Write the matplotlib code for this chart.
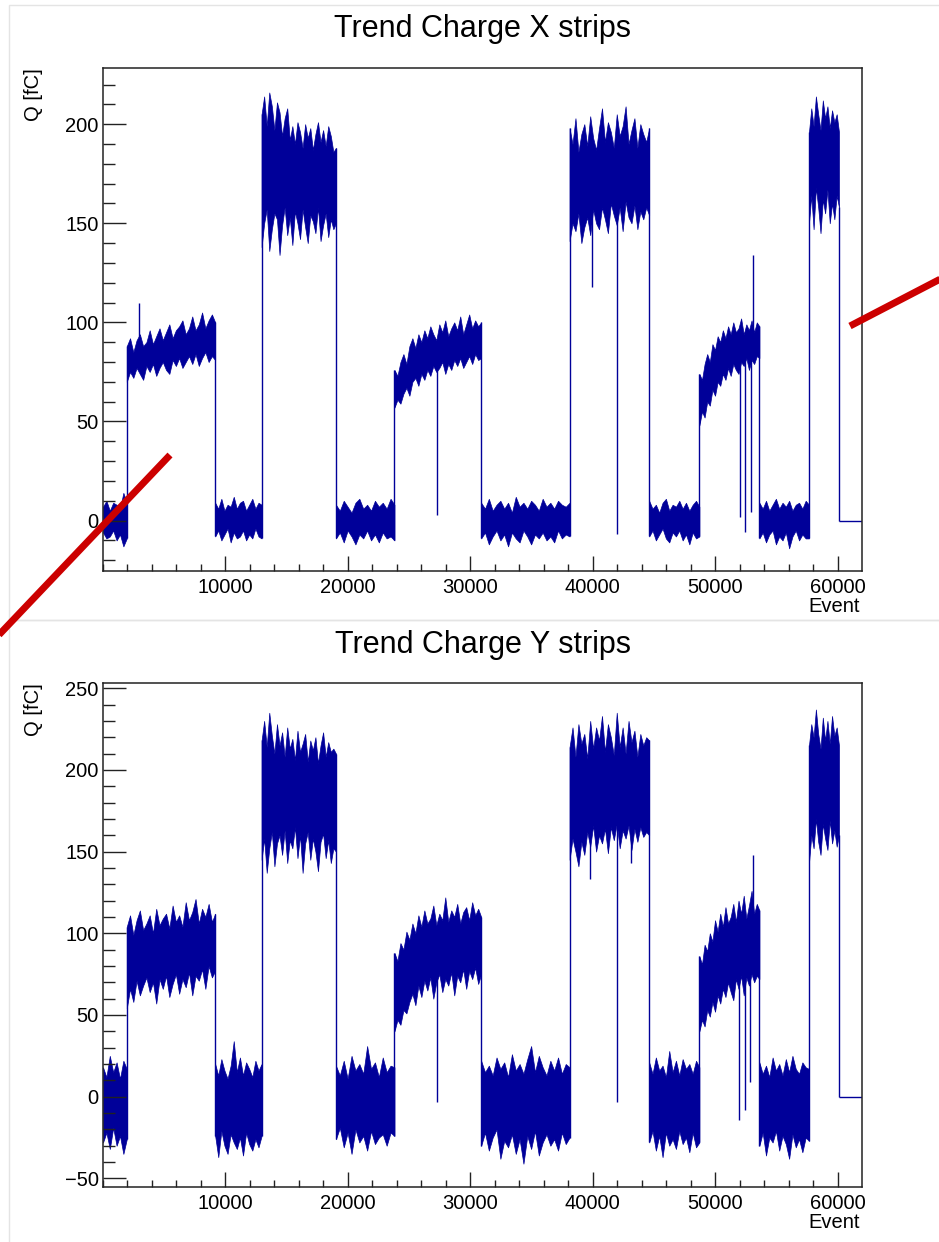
import numpy as np
import matplotlib
matplotlib.use('Agg')
import matplotlib.pyplot as plt
from matplotlib.lines import Line2D
from matplotlib.patches import Rectangle
from matplotlib.ticker import MultipleLocator

plt.rcParams['font.family'] = ['Liberation Sans', 'DejaVu Sans']

# run boundaries (event number), same for both strip planes
edges = [0, 1940, 9160, 12950, 19020, 23800, 30880, 38100, 44600, 48700, 53600, 57650, 60100]
ev_max = 61980

# X strips: upper / lower envelope of the charge in each run, read at evenly spaced events
x_hi = [
    [7, 10, 5, 9, 8, 6, 14, 9],
    [88, 92, 85, 91, 94, 88, 90, 96, 89, 93, 97, 91, 95, 99, 92, 96, 98, 101, 94, 97, 103, 96, 99, 105, 97, 101, 104, 100],
    [9, 6, 11, 5, 8, 7, 12, 6, 9, 10, 5, 8, 11, 6, 9, 8],
    [205, 214, 199, 216, 209, 197, 211, 206, 194, 203, 208, 192, 199, 190, 201, 196, 188, 200, 193, 198,
     187, 195, 201, 191, 197, 189, 199, 194, 186, 188],
    [8, 5, 10, 7, 4, 9, 11, 6, 8, 5, 10, 7, 9, 6, 11, 8],
    [76, 73, 80, 84, 79, 88, 92, 87, 94, 90, 96, 92, 98, 94, 91, 99, 95, 101, 93, 97,
     100, 96, 103, 94, 99, 104, 97, 101, 98, 100],
    [9, 6, 11, 5, 8, 10, 6, 9, 4, 12, 7, 9, 6, 10, 8, 5, 11, 7, 9, 6, 10, 8, 7, 9],
    [198, 190, 203, 186, 195, 200, 189, 204, 193, 187, 198, 208, 191, 201, 196, 188, 205, 194, 199, 209,
     190, 197, 203, 188, 200, 195, 191, 198],
    [10, 6, 8, 4, 9, 11, 5, 8, 7, 10, 6, 9, 5, 8, 10, 7],
    [74, 71, 79, 84, 80, 89, 86, 93, 90, 96, 92, 98, 94, 100, 95, 97, 102, 94, 99, 96, 101, 95, 100, 98],
    [9, 6, 10, 5, 8, 11, 6, 9, 7, 10, 5, 8, 9, 6, 10, 8],
    [196, 208, 199, 214, 205, 197, 212, 203, 209, 198, 207, 201, 205, 196],
]
x_lo = [
    [-6, -9, -8, -5, -10, -7, -13, -9],
    [70, 75, 72, 77, 74, 71, 78, 75, 79, 73, 77, 80, 76, 74, 81, 78, 82, 77, 80, 83, 79, 84, 78, 82, 85, 80, 83, 81],
    [-8, -5, -10, -7, -4, -11, -6, -9, -8, -5, -10, -7, -9, -4, -8, -9],
    [138, 150, 157, 136, 147, 155, 152, 134, 149, 158, 144, 153, 139, 156, 150, 142, 157, 148, 140, 154,
     151, 145, 158, 141, 149, 155, 143, 152, 147, 150],
    [-9, -6, -11, -5, -8, -12, -7, -9, -5, -10, -7, -11, -6, -9, -8, -10],
    [57, 61, 59, 64, 67, 63, 70, 72, 68, 74, 71, 76, 73, 78, 75, 77, 80, 74, 79, 76,
     81, 78, 82, 77, 80, 83, 79, 84, 81, 82],
    [-9, -6, -12, -8, -5, -10, -7, -13, -6, -9, -11, -5, -8, -12, -7, -9, -6, -10, -8, -11, -5, -9, -7, -8],
    [141, 150, 146, 155, 140, 148, 153, 144, 157, 150, 147, 158, 152, 145, 160, 154, 149, 158, 146, 161,
     153, 150, 159, 147, 156, 152, 158, 154],
    [-8, -5, -10, -7, -4, -9, -11, -6, -8, -5, -10, -7, -12, -6, -9, -8],
    [48, 55, 52, 60, 58, 66, 63, 70, 68, 74, 71, 77, 73, 79, 76, 74, 80, 78, 82, 76, 81, 79, 83, 82],
    [-9, -6, -11, -7, -5, -12, -8, -10, -6, -14, -8, -5, -10, -7, -9, -9],
    [150, 164, 147, 168, 158, 145, 162, 155, 167, 150, 160, 152, 164, 158],
]
x_spike_ev = [2940, 27250, 39900, 42000, 52000, 52450, 52900, 53100]
x_spike_q = [110, 3, 118, -7, 2, -6, 4.5, 134]

# Y strips
y_hi = [
    [18, 12, 25, 15, 21, 11, 22, 17],
    [104, 111, 99, 108, 114, 102, 106, 111, 100, 115, 105, 109, 112, 103, 117, 107, 111, 104, 119, 108,
     113, 121, 106, 115, 110, 118, 107, 112],
    [20, 13, 23, 16, 11, 19, 34, 15, 24, 13, 21, 17, 12, 22, 16, 20],
    [218, 230, 214, 235, 221, 210, 228, 215, 223, 208, 226, 213, 219, 206, 224, 211, 216, 222, 205, 218,
     212, 220, 204, 215, 223, 208, 217, 211, 213, 210],
    [19, 13, 22, 11, 25, 16, 20, 14, 31, 17, 21, 12, 24, 15, 19, 18],
    [88, 83, 94, 90, 101, 96, 106, 100, 111, 104, 114, 106, 109, 117, 105, 112, 108, 122, 107, 114,
     110, 118, 106, 113, 116, 108, 119, 111, 115, 110],
    [22, 15, 19, 13, 24, 17, 21, 12, 26, 16, 20, 14, 23, 31, 15, 25, 18, 13, 22, 16, 24, 14, 20, 18],
    [214, 226, 208, 228, 216, 222, 207, 230, 213, 226, 218, 233, 211, 228, 220, 209, 235, 214, 226, 210,
     230, 217, 224, 208, 222, 215, 220, 218],
    [21, 14, 24, 16, 19, 12, 28, 15, 22, 13, 23, 17, 20, 14, 22, 18],
    [86, 81, 93, 89, 100, 95, 108, 101, 112, 104, 116, 106, 110, 118, 107, 120, 112, 123, 109, 117, 126, 112, 118, 114],
    [21, 14, 19, 12, 24, 16, 20, 13, 23, 15, 25, 17, 14, 21, 18, 17],
    [215, 228, 220, 237, 222, 213, 232, 218, 230, 216, 233, 221, 226, 215],
]
y_lo = [
    [-28, -22, -32, -19, -30, -24, -35, -26],
    [54, 66, 58, 71, 62, 68, 73, 64, 70, 57, 72, 66, 74, 61, 69, 75, 63, 72, 67, 76, 62, 74, 71, 78, 66, 80, 73, 77],
    [-24, -37, -21, -30, -35, -23, -28, -32, -25, -36, -22, -29, -33, -26, -31, -24],
    [145, 158, 137, 152, 162, 141, 155, 160, 148, 163, 143, 157, 152, 165, 146, 160, 137, 155, 162, 145,
     158, 150, 138, 156, 161, 146, 157, 143, 152, 150],
    [-26, -19, -31, -22, -35, -20, -28, -24, -33, -21, -29, -25, -23, -30, -22, -24],
    [40, 47, 44, 53, 51, 58, 63, 56, 68, 61, 71, 65, 73, 60, 70, 75, 64, 72, 68, 76,
     62, 74, 70, 78, 66, 77, 72, 79, 69, 75],
    [-30, -22, -33, -25, -20, -38, -27, -31, -23, -35, -26, -41, -24, -32, -21, -36, -28, -23, -30, -26,
     -33, -22, -29, -25],
    [145, 158, 150, 141, 156, 148, 162, 153, 166, 150, 160, 155, 164, 149, 165, 157, 167, 152, 163, 158,
     166, 151, 164, 156, 165, 159, 162, 160],
    [-28, -21, -33, -24, -37, -22, -30, -26, -32, -21, -29, -25, -34, -22, -31, -28],
    [40, 47, 43, 53, 49, 58, 52, 62, 57, 66, 61, 70, 64, 59, 72, 66, 74, 62, 73, 68, 75, 70, 74, 72],
    [-30, -22, -36, -25, -28, -21, -33, -24, -29, -38, -23, -31, -26, -34, -25, -27],
    [143, 160, 152, 170, 156, 148, 167, 158, 151, 169, 155, 163, 153, 160],
]
y_spike_ev = [27250, 39800, 42000, 43100, 51950, 52400, 52850, 53100]
y_spike_q = [-3, 133, -3, 143, -14, -8, 9, 148]

blue = '#000099'


def draw_trend(ax, hi_runs, lo_runs, spike_ev, spike_q):
    xs, mids = [], []
    for i, (hi, lo) in enumerate(zip(hi_runs, lo_runs)):
        ev = np.linspace(edges[i], edges[i + 1], len(hi))
        ax.fill_between(ev, lo, hi, color=blue, lw=0.5)
        xs.append(ev)
        mids.append((np.array(hi) + np.array(lo)) / 2)
    # jumps between runs
    for i in range(len(hi_runs) - 1):
        a = min(lo_runs[i][-1], lo_runs[i + 1][0])
        b = max(hi_runs[i][-1], hi_runs[i + 1][0])
        ax.vlines(edges[i + 1], a, b, color=blue, lw=1.0)
    # empty events after the last run
    ax.vlines(edges[-1], 0, lo_runs[-1][-1], color=blue, lw=1.0)
    ax.hlines(0, edges[-1], ev_max, color=blue, lw=1.0)
    base = np.interp(spike_ev, np.concatenate(xs), np.concatenate(mids))
    ax.vlines(spike_ev, base, spike_q, color=blue, lw=1.0)


def style_axes(ax, ylim, title, title_pad):
    ax.set_xlim(0, ev_max)
    ax.set_ylim(*ylim)
    ax.set_xticks([10000, 20000, 30000, 40000, 50000, 60000])
    ax.xaxis.set_minor_locator(MultipleLocator(2000))
    ax.yaxis.set_major_locator(MultipleLocator(50))
    ax.yaxis.set_minor_locator(MultipleLocator(10))
    ax.tick_params(which='both', direction='in', top=False, right=False,
                   width=1, color='#222222', labelsize=14.5)
    ax.tick_params(axis='y', which='major', length=16.5, pad=3)
    ax.tick_params(axis='y', which='minor', length=8.5)
    ax.tick_params(axis='x', which='major', length=10.8, pad=5)
    ax.tick_params(axis='x', which='minor', length=5.4)
    for s in ax.spines.values():
        s.set_linewidth(1.1)
        s.set_color('#222222')
    ax.set_ylabel('Q [fC]', fontsize=14.5, loc='top')
    ax.yaxis.set_label_coords(-0.079, 1.0)
    ax.set_xlabel('Event', fontsize=14.5, loc='right')
    ax.xaxis.set_label_coords(0.997, -0.052)
    ax.set_title(title, fontsize=22, pad=title_pad)


fig = plt.figure(figsize=(9.39, 12.42), dpi=100)

# pad frames
fig.add_artist(Rectangle((9 / 939, 1 - 620 / 1242), 1.0, 615 / 1242, transform=fig.transFigure,
                         fill=False, edgecolor='#e4e4e4', lw=1.0))
fig.add_artist(Rectangle((9 / 939, -0.01), 1.0, 1 - 620 / 1242 + 0.01, transform=fig.transFigure,
                         fill=False, edgecolor='#e4e4e4', lw=1.0))

ax1 = fig.add_axes([0.1097, 0.5403, 0.8083, 0.4049])
draw_trend(ax1, x_hi, x_lo, x_spike_ev, x_spike_q)
style_axes(ax1, (-25.4, 228.3), 'Trend Charge X strips', 22.7)

ax2 = fig.add_axes([0.1097, 0.0445, 0.8083, 0.4056])
draw_trend(ax2, y_hi, y_lo, y_spike_ev, y_spike_q)
style_axes(ax2, (-55.1, 253.2), 'Trend Charge Y strips', 21.6)

# red marker strokes drawn over the canvas
fig.add_artist(Line2D([-5 / 939, 170 / 939], [1 - 639 / 1242, 1 - 455 / 1242], transform=fig.transFigure,
                      color='#cc0000', lw=5, solid_capstyle='butt'))
fig.add_artist(Line2D([850 / 939, 950 / 939], [1 - 326 / 1242, 1 - 274 / 1242], transform=fig.transFigure,
                      color='#cc0000', lw=5, solid_capstyle='butt'))

fig.savefig('out.png', dpi=100, facecolor='white')
